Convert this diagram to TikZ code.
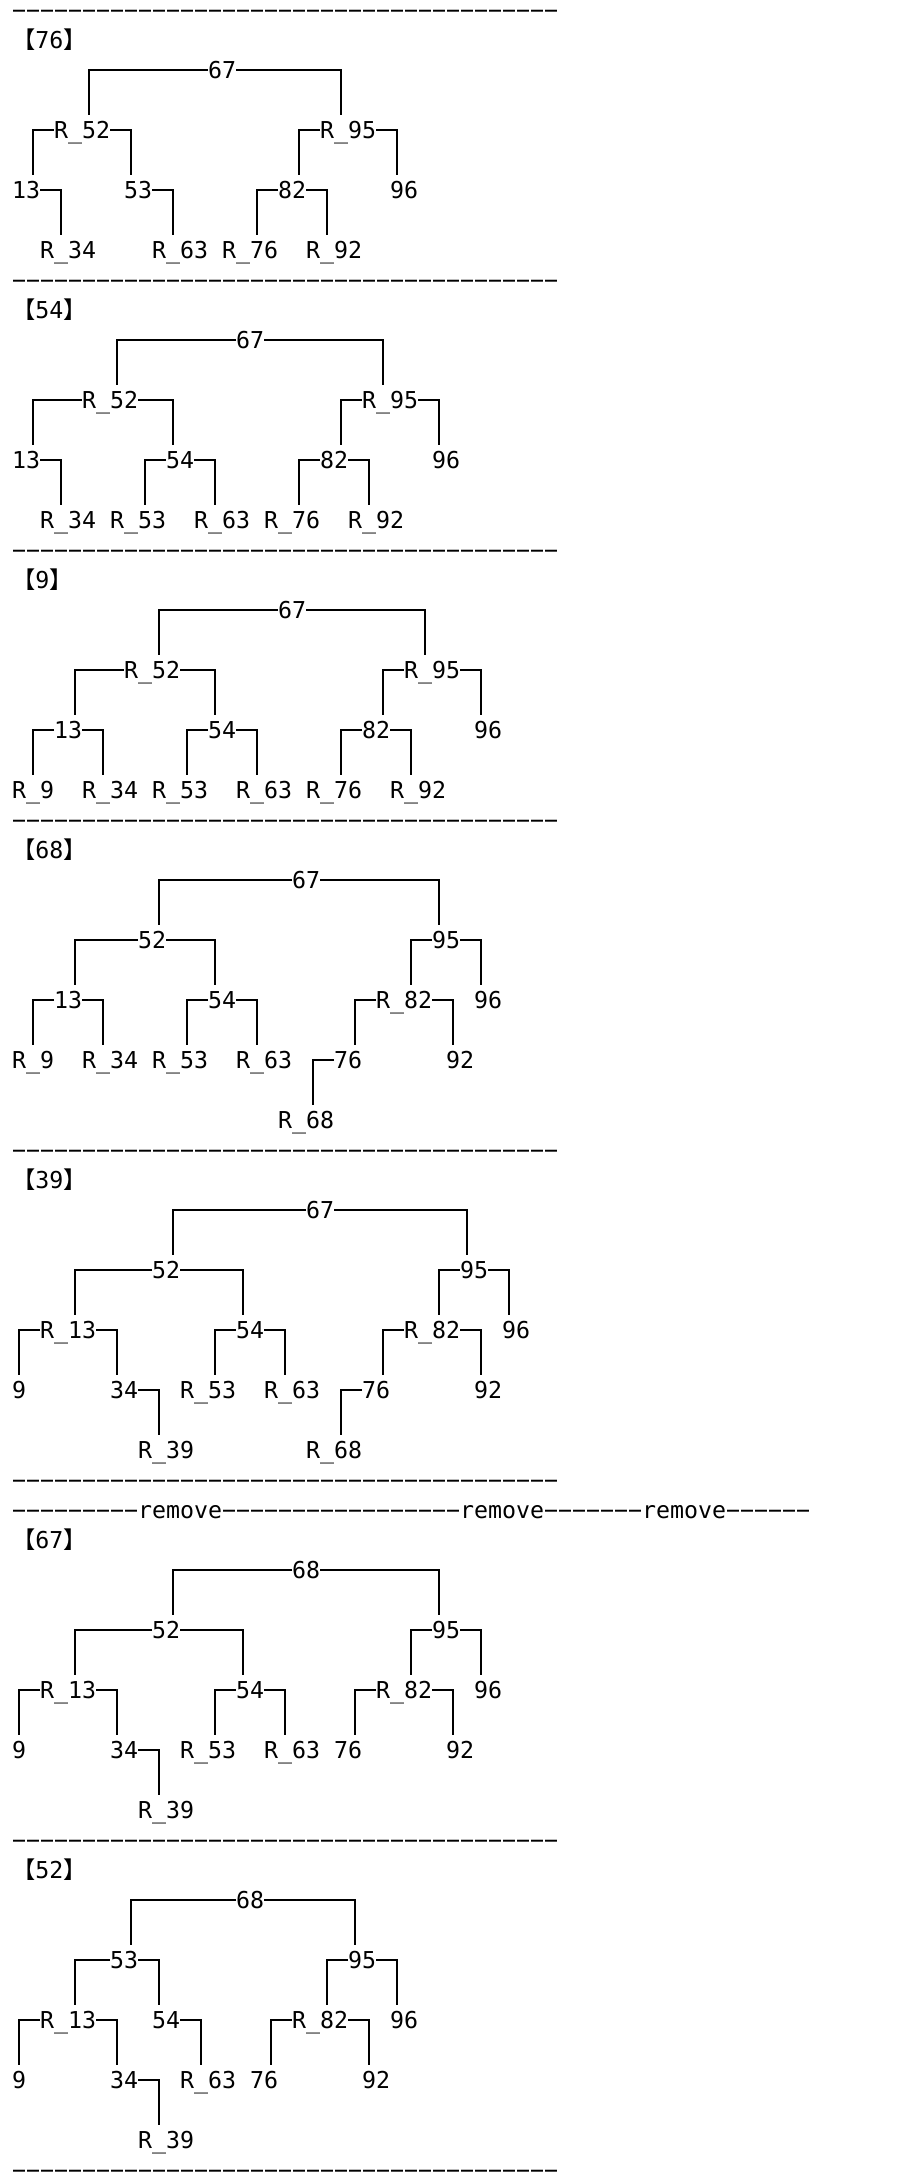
\documentclass[tikz,border=0pt]{standalone}
\usepackage{fontspec}
\setmonofont{DejaVu Sans Mono}
\newfontfamily\cjk{Noto Sans CJK SC}
\newcommand{\sepline}{−−−−−−−−−−−−−−−−−−−−−−−−−−−−−−−−−−−−−−−}

\begin{document}
\begin{tikzpicture}
        [x=14pt, y=-30pt,
         every node/.style={anchor=west, inner xsep=0pt, inner ysep=6.5pt,
           text height=17pt, text depth=0pt,
           font=\ttfamily\fontsize{23.25pt}{30pt}\selectfont},
         link/.style={line width=1.8pt}]
        \useasboundingbox (-12pt,10pt) rectangle (898pt,-2172pt);
        % separators
        \node (s1) at (0,0) {\sepline};
        \node (s2) at (0,9) {\sepline};
        \node (s3) at (0,18) {\sepline};
        \node (s4) at (0,27) {\sepline};
        \node (s5) at (0,38) {\sepline};
        \node (s6) at (0,49) {\sepline};
        \node (rm) at (0,50) {−−−−−−−−−remove−−−−−−−−−−−−−−−−−remove−−−−−−−remove−−−−−−};
        \node (s7) at (0,61) {\sepline};
        \node (s8) at (0,72) {\sepline};

        % 76
        \node (h76) at (0,1) {{\cjk 【}76{\cjk 】}};
        \node (A67) at (14,2) {67};
        \node (AR52) at (3,4) {R\_52};
        \node (AR95) at (22,4) {R\_95};
        \node (A13) at (0,6) {13};
        \node (A53) at (8,6) {53};
        \node (A82) at (19,6) {82};
        \node (A96) at (27,6) {96};
        \node (AR34) at (2,8) {R\_34};
        \node (AR63) at (10,8) {R\_63};
        \node (AR76) at (15,8) {R\_76};
        \node (AR92) at (21,8) {R\_92};
        \draw [link] (A67.west) -| ([xshift=7pt]AR52.north) (A67.east) -| ([xshift=-7pt]AR95.north);
        \draw [link] (AR52.west) -| ([xshift=7pt]A13.north) (AR52.east) -| ([xshift=-7pt]A53.north);
        \draw [link] (AR95.west) -| ([xshift=7pt]A82.north) (AR95.east) -| ([xshift=-7pt]A96.north);
        \draw [link] (A13.east) -| ([xshift=-7pt]AR34.north);
        \draw [link] (A53.east) -| ([xshift=-7pt]AR63.north);
        \draw [link] (A82.west) -| ([xshift=7pt]AR76.north) (A82.east) -| ([xshift=-7pt]AR92.north);

        % 54
        \node (h54) at (0,10) {{\cjk 【}54{\cjk 】}};
        \node (B67) at (16,11) {67};
        \node (BR52) at (5,13) {R\_52};
        \node (BR95) at (25,13) {R\_95};
        \node (B13) at (0,15) {13};
        \node (B54) at (11,15) {54};
        \node (B82) at (22,15) {82};
        \node (B96) at (30,15) {96};
        \node (BR34) at (2,17) {R\_34};
        \node (BR53) at (7,17) {R\_53};
        \node (BR63) at (13,17) {R\_63};
        \node (BR76) at (18,17) {R\_76};
        \node (BR92) at (24,17) {R\_92};
        \draw [link] (B67.west) -| ([xshift=7pt]BR52.north) (B67.east) -| ([xshift=-7pt]BR95.north);
        \draw [link] (BR52.west) -| ([xshift=7pt]B13.north) (BR52.east) -| ([xshift=-7pt]B54.north);
        \draw [link] (BR95.west) -| ([xshift=7pt]B82.north) (BR95.east) -| ([xshift=-7pt]B96.north);
        \draw [link] (B13.east) -| ([xshift=-7pt]BR34.north);
        \draw [link] (B54.west) -| ([xshift=7pt]BR53.north) (B54.east) -| ([xshift=-7pt]BR63.north);
        \draw [link] (B82.west) -| ([xshift=7pt]BR76.north) (B82.east) -| ([xshift=-7pt]BR92.north);

        % 9
        \node (h9) at (0,19) {{\cjk 【}9{\cjk 】}};
        \node (C67) at (19,20) {67};
        \node (CR52) at (8,22) {R\_52};
        \node (CR95) at (28,22) {R\_95};
        \node (C13) at (3,24) {13};
        \node (C54) at (14,24) {54};
        \node (C82) at (25,24) {82};
        \node (C96) at (33,24) {96};
        \node (CR9) at (0,26) {R\_9};
        \node (CR34) at (5,26) {R\_34};
        \node (CR53) at (10,26) {R\_53};
        \node (CR63) at (16,26) {R\_63};
        \node (CR76) at (21,26) {R\_76};
        \node (CR92) at (27,26) {R\_92};
        \draw [link] (C67.west) -| ([xshift=7pt]CR52.north) (C67.east) -| ([xshift=-7pt]CR95.north);
        \draw [link] (CR52.west) -| ([xshift=7pt]C13.north) (CR52.east) -| ([xshift=-7pt]C54.north);
        \draw [link] (CR95.west) -| ([xshift=7pt]C82.north) (CR95.east) -| ([xshift=-7pt]C96.north);
        \draw [link] (C13.west) -| (CR9.north) (C13.east) -| ([xshift=-7pt]CR34.north);
        \draw [link] (C54.west) -| ([xshift=7pt]CR53.north) (C54.east) -| ([xshift=-7pt]CR63.north);
        \draw [link] (C82.west) -| ([xshift=7pt]CR76.north) (C82.east) -| ([xshift=-7pt]CR92.north);

        % 68
        \node (h68) at (0,28) {{\cjk 【}68{\cjk 】}};
        \node (D67) at (20,29) {67};
        \node (D52) at (9,31) {52};
        \node (D95) at (30,31) {95};
        \node (D13) at (3,33) {13};
        \node (D54) at (14,33) {54};
        \node (DR82) at (26,33) {R\_82};
        \node (D96) at (33,33) {96};
        \node (DR9) at (0,35) {R\_9};
        \node (DR34) at (5,35) {R\_34};
        \node (DR53) at (10,35) {R\_53};
        \node (DR63) at (16,35) {R\_63};
        \node (D76) at (23,35) {76};
        \node (D92) at (31,35) {92};
        \node (DR68) at (19,37) {R\_68};
        \draw [link] (D67.west) -| ([xshift=7pt]D52.north) (D67.east) -| ([xshift=-7pt]D95.north);
        \draw [link] (D52.west) -| ([xshift=7pt]D13.north) (D52.east) -| ([xshift=-7pt]D54.north);
        \draw [link] (D95.west) -| ([xshift=7pt]DR82.north) (D95.east) -| ([xshift=-7pt]D96.north);
        \draw [link] (D13.west) -| (DR9.north) (D13.east) -| ([xshift=-7pt]DR34.north);
        \draw [link] (D54.west) -| ([xshift=7pt]DR53.north) (D54.east) -| ([xshift=-7pt]DR63.north);
        \draw [link] (DR82.west) -| ([xshift=7pt]D76.north) (DR82.east) -| ([xshift=-7pt]D92.north);
        \draw [link] (D76.west) -| ([xshift=7pt]DR68.north);

        % 39
        \node (h39) at (0,39) {{\cjk 【}39{\cjk 】}};
        \node (E67) at (21,40) {67};
        \node (E52) at (10,42) {52};
        \node (E95) at (32,42) {95};
        \node (ER13) at (2,44) {R\_13};
        \node (E54) at (16,44) {54};
        \node (ER82) at (28,44) {R\_82};
        \node (E96) at (35,44) {96};
        \node (E9) at (0,46) {9};
        \node (E34) at (7,46) {34};
        \node (ER53) at (12,46) {R\_53};
        \node (ER63) at (18,46) {R\_63};
        \node (E76) at (25,46) {76};
        \node (E92) at (33,46) {92};
        \node (ER39) at (9,48) {R\_39};
        \node (ER68) at (21,48) {R\_68};
        \draw [link] (E67.west) -| ([xshift=7pt]E52.north) (E67.east) -| ([xshift=-7pt]E95.north);
        \draw [link] (E52.west) -| ([xshift=7pt]ER13.north) (E52.east) -| ([xshift=-7pt]E54.north);
        \draw [link] (E95.west) -| ([xshift=7pt]ER82.north) (E95.east) -| ([xshift=-7pt]E96.north);
        \draw [link] (ER13.west) -| (E9.north) (ER13.east) -| ([xshift=-7pt]E34.north);
        \draw [link] (E54.west) -| ([xshift=7pt]ER53.north) (E54.east) -| ([xshift=-7pt]ER63.north);
        \draw [link] (ER82.west) -| ([xshift=7pt]E76.north) (ER82.east) -| ([xshift=-7pt]E92.north);
        \draw [link] (E34.east) -| ([xshift=-7pt]ER39.north);
        \draw [link] (E76.west) -| ([xshift=7pt]ER68.north);

        % 67
        \node (h67) at (0,51) {{\cjk 【}67{\cjk 】}};
        \node (F68) at (20,52) {68};
        \node (F52) at (10,54) {52};
        \node (F95) at (30,54) {95};
        \node (FR13) at (2,56) {R\_13};
        \node (F54) at (16,56) {54};
        \node (FR82) at (26,56) {R\_82};
        \node (F96) at (33,56) {96};
        \node (F9) at (0,58) {9};
        \node (F34) at (7,58) {34};
        \node (FR53) at (12,58) {R\_53};
        \node (FR63) at (18,58) {R\_63};
        \node (F76) at (23,58) {76};
        \node (F92) at (31,58) {92};
        \node (FR39) at (9,60) {R\_39};
        \draw [link] (F68.west) -| ([xshift=7pt]F52.north) (F68.east) -| ([xshift=-7pt]F95.north);
        \draw [link] (F52.west) -| ([xshift=7pt]FR13.north) (F52.east) -| ([xshift=-7pt]F54.north);
        \draw [link] (F95.west) -| ([xshift=7pt]FR82.north) (F95.east) -| ([xshift=-7pt]F96.north);
        \draw [link] (FR13.west) -| (F9.north) (FR13.east) -| ([xshift=-7pt]F34.north);
        \draw [link] (F54.west) -| ([xshift=7pt]FR53.north) (F54.east) -| ([xshift=-7pt]FR63.north);
        \draw [link] (FR82.west) -| ([xshift=7pt]F76.north) (FR82.east) -| ([xshift=-7pt]F92.north);
        \draw [link] (F34.east) -| ([xshift=-7pt]FR39.north);

        % 52
        \node (h52) at (0,62) {{\cjk 【}52{\cjk 】}};
        \node (G68) at (16,63) {68};
        \node (G53) at (7,65) {53};
        \node (G95) at (24,65) {95};
        \node (GR13) at (2,67) {R\_13};
        \node (G54) at (10,67) {54};
        \node (GR82) at (20,67) {R\_82};
        \node (G96) at (27,67) {96};
        \node (G9) at (0,69) {9};
        \node (G34) at (7,69) {34};
        \node (GR63) at (12,69) {R\_63};
        \node (G76) at (17,69) {76};
        \node (G92) at (25,69) {92};
        \node (GR39) at (9,71) {R\_39};
        \draw [link] (G68.west) -| ([xshift=7pt]G53.north) (G68.east) -| ([xshift=-7pt]G95.north);
        \draw [link] (G53.west) -| ([xshift=7pt]GR13.north) (G53.east) -| ([xshift=-7pt]G54.north);
        \draw [link] (G95.west) -| ([xshift=7pt]GR82.north) (G95.east) -| ([xshift=-7pt]G96.north);
        \draw [link] (GR13.west) -| (G9.north) (GR13.east) -| ([xshift=-7pt]G34.north);
        \draw [link] (G54.east) -| ([xshift=-7pt]GR63.north);
        \draw [link] (GR82.west) -| ([xshift=7pt]G76.north) (GR82.east) -| ([xshift=-7pt]G92.north);
        \draw [link] (G34.east) -| ([xshift=-7pt]GR39.north);
    \end{tikzpicture}
\end{document}
